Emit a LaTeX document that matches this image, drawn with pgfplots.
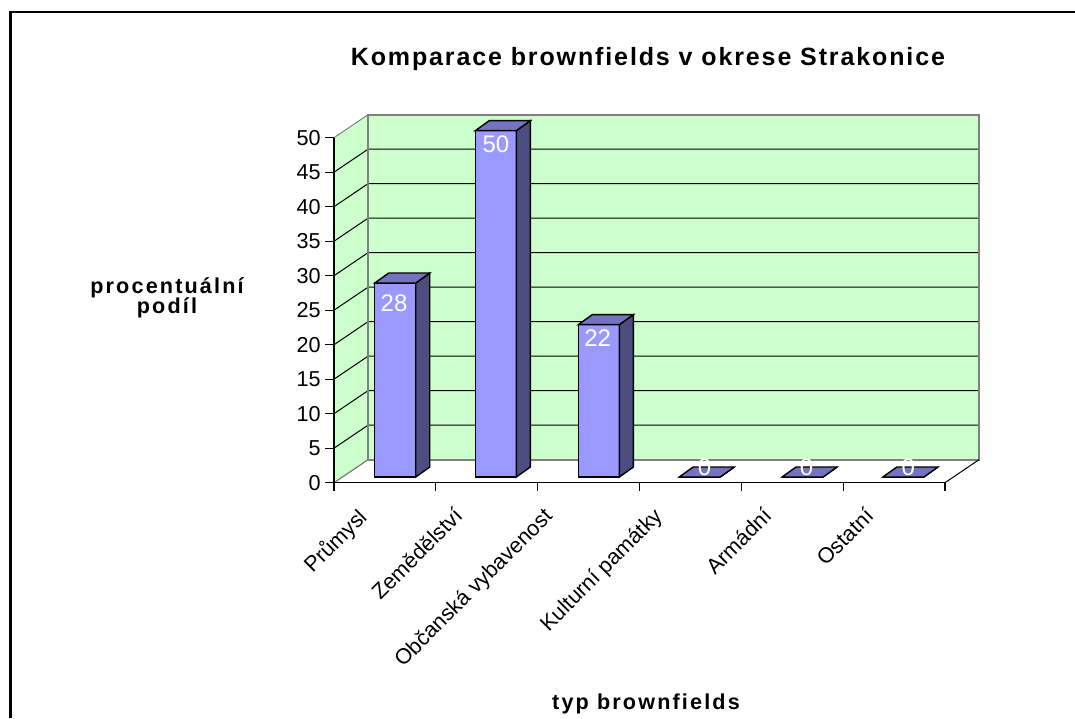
\documentclass[border=0pt]{standalone}
\usepackage{fontspec}
\setmainfont{Liberation Sans}
\newfontfamily\titlefont[LetterSpace=7.5]{Liberation Sans Bold}
\newfontfamily\labelfont[LetterSpace=10]{Liberation Sans Bold}
\usepackage{pgfplots}
\pgfplotsset{compat=1.18}
\definecolor{wall}{HTML}{CCFFCC}
\definecolor{barfront}{HTML}{9999FF}
\definecolor{barside}{HTML}{4D4D80}
\definecolor{bartop}{HTML}{7373BF}
\definecolor{wallgray}{HTML}{808080}
% one picture pixel = 0.5pt; axis box is the front plane of the 3D chart
% wall depth is 34px/23px, bar depth 14px/10px
\newcommand{\wallx}{0.3339}
\newcommand{\wally}{3.333}
\newcommand{\column}[2]{% left edge (axis units), value
  \pgfmathsetmacro{\xa}{#1}
  \pgfmathsetmacro{\xb}{#1+0.403}
  \pgfmathsetmacro{\xc}{#1+0.403+0.1375}
  \pgfmathsetmacro{\xd}{#1+0.1375}
  \pgfmathsetmacro{\ya}{0.826}
  \pgfmathsetmacro{\yb}{0.826+#2*1.004}
  \pgfmathsetmacro{\yc}{\yb+1.45}
  \addplot[fill=barfront,draw=black,line width=0.7pt] coordinates {(\xa,\ya) (\xb,\ya) (\xb,\yb) (\xa,\yb)} --cycle;
  \addplot[fill=barside,draw=black,line width=0.7pt] coordinates {(\xb,\ya) (\xc,\ya+1.45) (\xc,\yc) (\xb,\yb)} --cycle;
  \addplot[fill=bartop,draw=black,line width=0.7pt] coordinates {(\xa,\yb) (\xb,\yb) (\xc,\yc) (\xd,\yc)} --cycle;
}
\begin{document}
\begin{tikzpicture}
\path[use as bounding box] (-167pt,-117.65pt) rectangle (370.5pt,241.35pt);
\draw[black,line width=1.2pt] (-161.75pt,-117.65pt) -- (-161.75pt,235.45pt) -- (370.5pt,235.45pt);
\begin{axis}[
  scale only axis, width=305.5pt, height=172.5pt,
  xmin=0, xmax=6, ymin=0, ymax=50,
  clip=false, axis on top,
  axis x line*=bottom, axis y line*=left,
  axis line style={black,line width=0.55pt,-},
  ytick={0,5,...,50},
  xtick={0.075,1.025,1.906,2.985,4.061,5.061},
  xticklabels={Průmysl,Zemědělství,Občanská vybavenost,Kulturní památky,Armádní,Ostatní},
  minor xtick={0,1,2,3,4,5,6},
  major x tick style={draw=none},
  minor x tick style={black,line width=0.55pt},
  minor tick length=4pt,
  major y tick style={black,line width=0.55pt},
  major tick length=4.5pt,
  tick align=outside, tick pos=left,
  /pgf/number format/assume math mode=true,
  tick label style={font=\fontsize{10.8}{13}\selectfont},
  y tick label style={inner xsep=2pt},
  x tick label style={rotate=45,anchor=north east,inner sep=0pt,yshift=-10pt},
  title={\titlefont\fontsize{12.5}{15}\selectfont Komparace brownfields v okrese Strakonice},
  title style={at={(axis cs:3.083,59.7)},anchor=center},
  xlabel={typ brownfields},
  xlabel style={at={(axis cs:3.064,-32.1)},anchor=center,font=\labelfont\fontsize{10.8}{13}\selectfont},
  ylabel={procentuální\\[-1.5pt]podíl},
  ylabel style={at={(axis cs:-1.64,26.8)},anchor=center,rotate=-90,align=center,font=\labelfont\fontsize{10.8}{9.2}\selectfont},
]
% walls and floor
\addplot[fill=wall,draw=wallgray,line width=0.5pt] coordinates {(0,0) (\wallx,\wally) (\wallx,53.333) (0,50)} --cycle;
\addplot[fill=wall,draw=none] coordinates {(\wallx,\wally) (6.3339,\wally) (6.3339,53.333) (\wallx,53.333)} --cycle;
\pgfplotsinvokeforeach{5,10,...,45}{
  \addplot[black,line width=0.5pt] coordinates {(0,#1) (\wallx,#1+\wally) (6.3339,#1+\wally)};
}
\addplot[wallgray,line width=1pt] coordinates {(\wallx,\wally) (6.3339,\wally) (6.3339,53.333) (\wallx,53.333)} --cycle;
\addplot[wallgray,line width=0.5pt] coordinates {(0,0) (\wallx,\wally)};
\addplot[black,line width=0.5pt] coordinates {(6,0) (6.3339,\wally)};
% columns
\column{0.40}{28}
\column{1.388}{50}
\column{2.40}{22}
\column{3.39}{0}
\column{4.40}{0}
\column{5.39}{0}
% value labels
\addplot[draw=none,nodes near coords,point meta=explicit symbolic,
  every node near coord/.style={white,anchor=center,font=\fontsize{12}{14}\selectfont}]
  table[meta=lab,row sep=\\] {
  x y lab\\
  0.59 26.0 28\\
  1.59 49.1 50\\
  2.59 20.9 22\\
  3.64 2.3 0\\
  4.64 2.3 0\\
  5.64 2.3 0\\
};
\end{axis}
\end{tikzpicture}
\end{document}
